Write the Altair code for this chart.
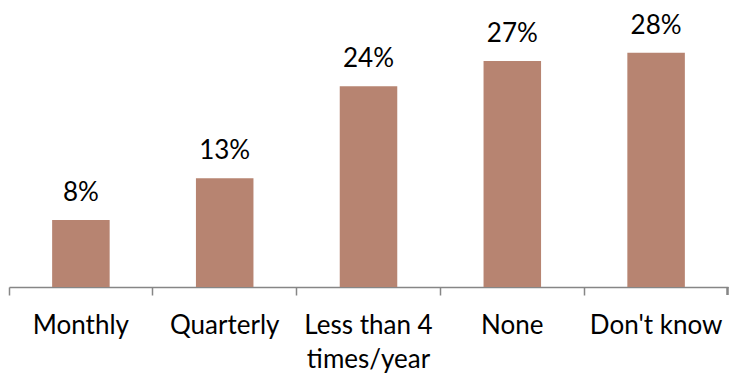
import altair as alt
import pandas as pd

categories = ["Monthly", "Quarterly", "Less than 4 times/year", "None", "Don't know"]
shares = [0.08, 0.13, 0.24, 0.27, 0.28]

df = pd.DataFrame({"category": categories, "share": shares})

FONT = "Lato"
SIZE = 26
W, H = 719, 287

x = alt.X(
    "category:N",
    sort=categories,
    scale=alt.Scale(paddingInner=0, paddingOuter=0),
    axis=alt.Axis(
        title=None,
        labelAngle=0,
        bandPosition=0,
        labelFont=FONT,
        labelFontSize=SIZE,
        labelColor="#000000",
        labelBaseline="alphabetic",
        labelPadding=38,
        labelLineHeight=34,
        labelExpr="datum.label == 'Less than 4 times/year' ? ['Less than 4', 'times/year'] : datum.label",
        domainColor="#868686",
        domainWidth=1.5,
        tickColor="#868686",
        tickWidth=1.5,
        tickSize=8,
        grid=False,
    ),
)
y = alt.Y(
    "share:Q",
    scale=alt.Scale(domain=[0, 0.343], nice=False, zero=True),
    axis=None,
)

base = alt.Chart(df)

bars = base.mark_bar(color="#B78471", width=alt.RelativeBandSize(0.4)).encode(x=x, y=y)

labels = base.mark_text(
    font=FONT, fontSize=SIZE, color="#000000", baseline="alphabetic", dy=-19
).encode(x=x, y=y, text=alt.Text("share:Q", format=".0%"))

end_tick = alt.Chart(df).mark_rule(color="#868686", strokeWidth=1.5).encode(
    x=alt.value(W - 0.5), y=alt.value(H), y2=alt.value(H + 8)
)

chart = (
    alt.layer(bars, labels, end_tick)
    .properties(
        width=W,
        height=H,
        padding={"left": 9, "top": 0, "right": 1, "bottom": 86},
        autosize=alt.AutoSizeParams(type="none"),
    )
    .configure_view(stroke=None)
)

chart.save("out.html", embed_options={"renderer": "svg", "actions": False})
